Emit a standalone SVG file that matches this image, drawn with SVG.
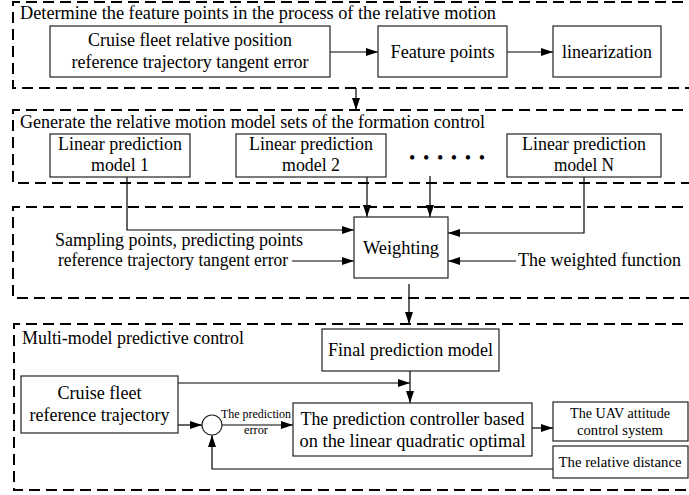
<svg xmlns="http://www.w3.org/2000/svg" width="689" height="495" viewBox="0 0 689 495" font-family="Liberation Serif, Tinos, DejaVu Serif, serif">
<defs>
<marker id="ah" markerUnits="userSpaceOnUse" markerWidth="12" markerHeight="8" refX="12" refY="4" orient="auto">
<path d="M0,0 L12,4 L0,8 z" fill="#000"/>
</marker>
</defs>
<style>
.sec{fill:none;stroke:#000;stroke-width:2;stroke-dasharray:11 6}
.box{fill:#fff;stroke:#222;stroke-width:1.2}
.t{font-family:'Liberation Serif',Tinos,'DejaVu Serif',serif;font-size:18px;fill:#000}
.c{text-anchor:middle}
.s15{font-size:15px}
.s12{font-size:12px}
.ln{fill:none;stroke:#000;stroke-width:1.2}
.ar{marker-end:url(#ah)}
</style>
<rect width="689" height="495" fill="#fff"/>
<g id="sections">
<path class="sec" d="M700,2 H13 V88 H700"/>
<path class="sec" d="M700,110 H13 V183 H700"/>
<path class="sec" d="M700,207 H13 V298 H700"/>
<path class="sec" d="M700,324 H14 V490 H700"/>
</g>
<g id="titles">
<text class="t" x="20" y="19" textLength="476" lengthAdjust="spacingAndGlyphs">Determine  the feature points in the process of the relative motion</text>
<text class="t" x="20" y="128" textLength="465" lengthAdjust="spacingAndGlyphs">Generate the relative motion model sets of the formation control</text>
<text class="t" x="22" y="344" textLength="222" lengthAdjust="spacingAndGlyphs">Multi-model predictive control</text>
</g>
<g id="connectors">
<path class="ln ar" d="M330,52 H378"/>
<path class="ln ar" d="M507,52 H553"/>
<path class="ln ar" d="M356,88 V110"/>
<path class="ln ar" d="M127,177 V230 H354"/>
<path class="ln ar" d="M367,177 V217"/>
<path class="ln ar" d="M430,176 V217"/>
<path class="ln ar" d="M584,177 V233 H448"/>
<path class="ln ar" d="M292,261 H354"/>
<path class="ln ar" d="M516,261 H448"/>
<path class="ln ar" d="M409,284 V324"/>
<path class="ln ar" d="M178,383 H410"/>
<path class="ln ar" d="M410,371 V403"/>
<path class="ln ar" d="M178,425 H202"/>
<path class="ln ar" d="M222,425 H293"/>
<path class="ln ar" d="M532,428 H553"/>
<path class="ln ar" d="M553,469 H212 V435"/>
</g>
<g id="n-cruise-rel">
<rect class="box" x="50" y="26" width="280" height="51"/>
<text class="t c" x="190" y="46" textLength="204" lengthAdjust="spacingAndGlyphs">Cruise fleet relative position</text>
<text class="t c" x="190" y="68" textLength="237" lengthAdjust="spacingAndGlyphs">reference trajectory tangent error</text>
</g>
<g id="n-feature">
<rect class="box" x="378" y="26" width="129" height="51"/>
<text class="t c" x="442.5" y="58" textLength="104" lengthAdjust="spacingAndGlyphs">Feature points</text>
</g>
<g id="n-linear">
<rect class="box" x="553" y="26" width="108" height="51"/>
<text class="t c" x="607" y="58" textLength="90" lengthAdjust="spacingAndGlyphs">linearization</text>
</g>
<g id="n-model1">
<rect class="box" x="50" y="134" width="140" height="43"/>
<text class="t c" x="120" y="150" textLength="124" lengthAdjust="spacingAndGlyphs">Linear prediction</text>
<text class="t c" x="120" y="171" textLength="58" lengthAdjust="spacingAndGlyphs">model 1</text>
</g>
<g id="n-model2">
<rect class="box" x="236" y="134" width="150" height="43"/>
<text class="t c" x="311" y="150" textLength="124" lengthAdjust="spacingAndGlyphs">Linear prediction</text>
<text class="t c" x="311" y="171" textLength="58" lengthAdjust="spacingAndGlyphs">model 2</text>
</g>
<g id="n-dots">
<text class="t" x="409" y="164" font-size="14" textLength="76" lengthAdjust="spacing">• • • • • •</text>
</g>
<g id="n-modelN">
<rect class="box" x="507" y="134" width="154" height="43"/>
<text class="t c" x="584" y="150" textLength="124" lengthAdjust="spacingAndGlyphs">Linear prediction</text>
<text class="t c" x="584" y="171" textLength="60" lengthAdjust="spacingAndGlyphs">model N</text>
</g>
<g id="n-weighting">
<rect class="box" x="354" y="217" width="94" height="61"/>
<text class="t c" x="401" y="254" textLength="76" lengthAdjust="spacingAndGlyphs">Weighting</text>
</g>
<g id="n-sampling">
<text class="t" x="55" y="246" textLength="248" lengthAdjust="spacingAndGlyphs">Sampling points, predicting points</text>
<text class="t" x="58" y="266" textLength="230" lengthAdjust="spacingAndGlyphs">reference trajectory tangent error</text>
</g>
<g id="n-wfunc">
<text class="t" x="518" y="266" textLength="163" lengthAdjust="spacingAndGlyphs">The weighted function</text>
</g>
<g id="n-final">
<rect class="box" x="322" y="329" width="177" height="42"/>
<text class="t c" x="410.5" y="356" textLength="165" lengthAdjust="spacingAndGlyphs">Final prediction model</text>
</g>
<g id="n-cruise-ref">
<rect class="box" x="21" y="376" width="157" height="57"/>
<text class="t c" x="99.5" y="399" textLength="84" lengthAdjust="spacingAndGlyphs">Cruise fleet</text>
<text class="t c" x="99.5" y="421" textLength="140" lengthAdjust="spacingAndGlyphs">reference trajectory</text>
</g>
<g id="n-sum">
<circle cx="212" cy="425" r="10" fill="#fff" stroke="#222" stroke-width="1.2"/>
</g>
<g id="n-prederr">
<text class="t s12 c" x="256" y="418" textLength="70" lengthAdjust="spacingAndGlyphs">The prediction</text>
<text class="t s12 c" x="256" y="434" textLength="24" lengthAdjust="spacingAndGlyphs">error</text>
</g>
<g id="n-controller">
<rect class="box" x="293" y="403" width="239" height="53"/>
<text class="t c" x="412.5" y="425" textLength="224" lengthAdjust="spacingAndGlyphs">The prediction controller based</text>
<text class="t c" x="412.5" y="447" textLength="226" lengthAdjust="spacingAndGlyphs">on the linear quadratic optimal</text>
</g>
<g id="n-uav">
<rect class="box" x="553" y="402" width="135" height="39"/>
<text class="t s15 c" x="620" y="418" textLength="100" lengthAdjust="spacingAndGlyphs">The UAV attitude</text>
<text class="t s15 c" x="620" y="435" textLength="86" lengthAdjust="spacingAndGlyphs">control system</text>
</g>
<g id="n-reldist">
<rect class="box" x="553" y="446" width="135" height="32"/>
<text class="t s15 c" x="620" y="467" textLength="123" lengthAdjust="spacingAndGlyphs">The relative distance</text>
</g>
</svg>
